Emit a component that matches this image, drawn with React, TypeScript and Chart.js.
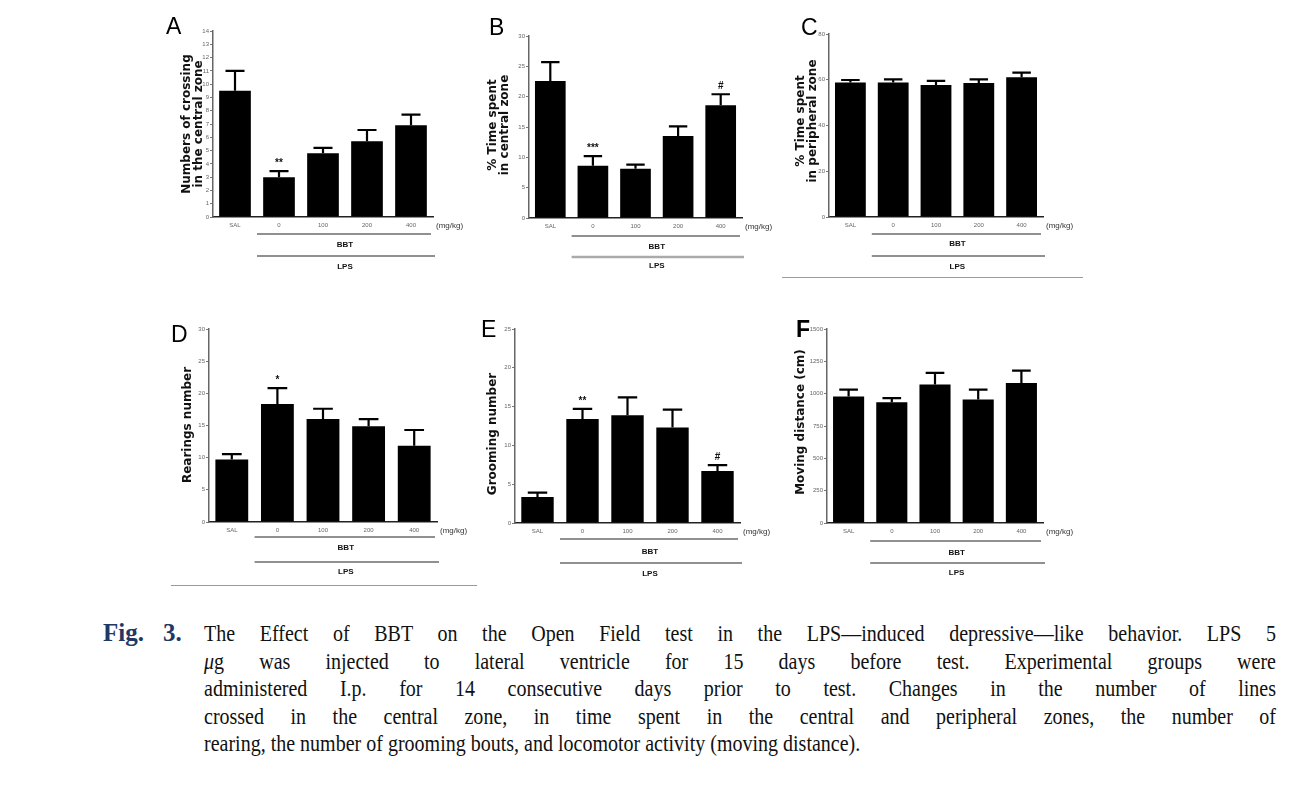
import { useEffect, useRef } from "react";
import { Chart, registerables } from "chart.js";
Chart.register(...registerables);

// ---------- data ----------
const groups = ["SAL", "0", "100", "200", "400"];

const crossingMean = [9.5, 3.0, 4.8, 5.7, 6.9];
const crossingSem = [1.5, 0.45, 0.4, 0.85, 0.8];
const crossingMarks = ["", "**", "", "", ""];

const centralTimeMean = [22.6, 8.6, 8.1, 13.5, 18.6];
const centralTimeSem = [3.1, 1.6, 0.7, 1.6, 1.8];
const centralTimeMarks = ["", "***", "", "", "#"];

const peripheralTimeMean = [58.8, 58.8, 57.7, 58.6, 61.1];
const peripheralTimeSem = [1.1, 1.4, 1.8, 1.6, 2.0];
const peripheralTimeMarks = ["", "", "", "", ""];

const rearingMean = [9.7, 18.35, 16.0, 14.9, 11.85];
const rearingSem = [0.85, 2.45, 1.6, 1.1, 2.45];
const rearingMarks = ["", "*", "", "", ""];

const groomingMean = [3.36, 13.4, 13.9, 12.3, 6.7];
const groomingSem = [0.55, 1.3, 2.3, 2.3, 0.75];
const groomingMarks = ["", "**", "", "", "#"];

const distanceMean = [979, 933, 1070, 954, 1082];
const distanceSem = [52, 33, 90, 77, 96];
const distanceMarks = ["", "", "", "", ""];

const captionLines = [
  "The Effect of BBT on the Open Field test in the LPS\u2014induced depressive\u2014like behavior. LPS 5",
  "was injected to lateral ventricle for 15 days before test. Experimental groups were",
  "administered I.p. for 14 consecutive days prior to test. Changes in the number of lines",
  "crossed in the central zone, in time spent in the central and peripheral zones, the number of",
  "rearing, the number of grooming bouts, and locomotor activity (moving distance).",
];

// ---------- layout ----------
const SANS = "'Liberation Sans', Arial, sans-serif";
const TITLE_FONT = "'DejaVu Sans', 'Liberation Sans', sans-serif";

type PanelSpec = {
  letter: string;
  letterBold: boolean;
  letterX: number;
  letterY: number;
  box: [number, number, number, number];
  area: [number, number, number, number];
  title: string[];
  titleX: number;
  titleY: number;
  means: number[];
  sems: number[];
  marks: string[];
  yMax: number;
  yStep: number;
  bbtLineY: number;
  bbtTextY: number;
  lpsLineY: number;
  lpsTextY: number;
  lpsGrey?: boolean;
  sep?: [number, number, number];
};

const panels: PanelSpec[] = [
  {
    letter: "A", letterBold: false, letterX: 166, letterY: 34,
    box: [150, 5, 328, 285], area: [213, 31, 433, 217],
    title: ["Numbers of crossing", "in the central zone"], titleX: 193, titleY: 124,
    means: crossingMean, sems: crossingSem, marks: crossingMarks,
    yMax: 14, yStep: 1,
    bbtLineY: 234, bbtTextY: 245, lpsLineY: 256, lpsTextY: 267,
  },
  {
    letter: "B", letterBold: false, letterX: 489, letterY: 35,
    box: [480, 5, 298, 285], area: [529, 36, 742, 218],
    title: ["% Time spent", "in central zone"], titleX: 499, titleY: 125,
    means: centralTimeMean, sems: centralTimeSem, marks: centralTimeMarks,
    yMax: 30, yStep: 5,
    bbtLineY: 236, bbtTextY: 247, lpsLineY: 257, lpsTextY: 266, lpsGrey: true,
  },
  {
    letter: "C", letterBold: false, letterX: 801, letterY: 35,
    box: [778, 5, 312, 285], area: [829, 34, 1043, 217],
    title: ["% Time spent", "in peripheral zone"], titleX: 807, titleY: 121,
    means: peripheralTimeMean, sems: peripheralTimeSem, marks: peripheralTimeMarks,
    yMax: 80, yStep: 20,
    bbtLineY: 234, bbtTextY: 244, lpsLineY: 256, lpsTextY: 267,
    sep: [782, 1083, 277],
  },
  {
    letter: "D", letterBold: false, letterX: 171, letterY: 342,
    box: [150, 298, 328, 297], area: [209, 329, 437, 522],
    title: ["Rearings number"], titleX: 188, titleY: 425,
    means: rearingMean, sems: rearingSem, marks: rearingMarks,
    yMax: 30, yStep: 5,
    bbtLineY: 537, bbtTextY: 548, lpsLineY: 562, lpsTextY: 572,
    sep: [171, 477, 585],
  },
  {
    letter: "E", letterBold: false, letterX: 481, letterY: 337,
    box: [480, 298, 298, 297], area: [515, 329, 740, 523],
    title: ["Grooming number"], titleX: 493, titleY: 434,
    means: groomingMean, sems: groomingSem, marks: groomingMarks,
    yMax: 25, yStep: 5,
    bbtLineY: 539, bbtTextY: 552, lpsLineY: 563, lpsTextY: 574,
  },
  {
    letter: "F", letterBold: true, letterX: 796, letterY: 337,
    box: [778, 298, 312, 297], area: [827, 329, 1043, 523],
    title: ["Moving distance (cm)"], titleX: 801, titleY: 422,
    means: distanceMean, sems: distanceSem, marks: distanceMarks,
    yMax: 1500, yStep: 250,
    bbtLineY: 541, bbtTextY: 553, lpsLineY: 563, lpsTextY: 573,
  },
];

function PanelChart({ spec }: { spec: PanelSpec }) {
  const ref = useRef<HTMLCanvasElement>(null);
  useEffect(() => {
    const [bx, by, bw, bh] = spec.box;
    const [l, t, r, b] = spec.area;
    const overlay = {
      id: "overlay",
      afterDraw(chart: any) {
        const ctx = chart.ctx as CanvasRenderingContext2D;
        const xs = chart.scales.x;
        const ys = chart.scales.y;
        const meta = chart.getDatasetMeta(0);
        const ca = chart.chartArea;
        ctx.save();
        // error bars + marks
        spec.means.forEach((m, i) => {
          const x = xs.getPixelForValue(i);
          const y0 = ys.getPixelForValue(m);
          const y1 = ys.getPixelForValue(m + spec.sems[i]);
          const w = meta.data[i].width as number;
          const half = w * 0.3;
          ctx.strokeStyle = "#000";
          ctx.lineWidth = 2.2;
          ctx.beginPath();
          ctx.moveTo(x, y0);
          ctx.lineTo(x, y1);
          ctx.moveTo(x - half, y1);
          ctx.lineTo(x + half, y1);
          ctx.stroke();
          if (spec.marks[i]) {
            ctx.fillStyle = "#111";
            ctx.font = `bold 10px ${SANS}`;
            ctx.textAlign = "center";
            ctx.textBaseline = "alphabetic";
            ctx.fillText(spec.marks[i], x, y1 - 5);
          }
        });
        // (mg/kg)
        ctx.fillStyle = "#333";
        ctx.font = `8px ${SANS}`;
        ctx.textAlign = "left";
        ctx.textBaseline = "middle";
        ctx.fillText("(mg/kg)", ca.right + 3, ca.bottom + 9);
        // BBT / LPS lines
        const startX = (xs.getPixelForValue(0) + xs.getPixelForValue(1)) / 2;
        ctx.strokeStyle = "#222";
        ctx.lineWidth = 1.2;
        ctx.beginPath();
        ctx.moveTo(startX, spec.bbtLineY - by);
        ctx.lineTo(ca.right - 2, spec.bbtLineY - by);
        ctx.stroke();
        if (spec.lpsGrey) {
          ctx.strokeStyle = "#aaa";
          ctx.lineWidth = 2.5;
        }
        ctx.beginPath();
        ctx.moveTo(startX, spec.lpsLineY - by);
        ctx.lineTo(ca.right + 2, spec.lpsLineY - by);
        ctx.stroke();
        ctx.fillStyle = "#111";
        ctx.font = `bold 8px ${SANS}`;
        ctx.textAlign = "center";
        ctx.textBaseline = "middle";
        const mid = (startX + ca.right) / 2;
        ctx.fillText("BBT", mid, spec.bbtTextY - by);
        ctx.fillText("LPS", mid, spec.lpsTextY - by);
        // separator
        if (spec.sep) {
          ctx.strokeStyle = "#9a9a9a";
          ctx.lineWidth = 1;
          ctx.beginPath();
          ctx.moveTo(spec.sep[0] - bx, spec.sep[2] - by + 0.5);
          ctx.lineTo(spec.sep[1] - bx, spec.sep[2] - by + 0.5);
          ctx.stroke();
        }
        // y title
        ctx.save();
        ctx.translate(spec.titleX - bx, spec.titleY - by);
        ctx.rotate(-Math.PI / 2);
        ctx.fillStyle = "#111";
        ctx.font = `bold 12px ${TITLE_FONT}`;
        ctx.textAlign = "center";
        ctx.textBaseline = "middle";
        const n = spec.title.length;
        spec.title.forEach((line, k) => {
          ctx.fillText(line, 0, (k - (n - 1) / 2) * 12);
        });
        ctx.restore();
        // panel letter
        ctx.fillStyle = "#000";
        ctx.font = `${spec.letterBold ? "bold " : ""}23px ${SANS}`;
        ctx.textAlign = "left";
        ctx.textBaseline = "alphabetic";
        ctx.fillText(spec.letter, spec.letterX - bx, spec.letterY - by);
        ctx.restore();
      },
    };
    const chart = new Chart(ref.current!, {
      type: "bar",
      data: {
        labels: groups,
        datasets: [
          {
            data: spec.means,
            backgroundColor: "#000",
            borderWidth: 0,
            barPercentage: 0.72,
            categoryPercentage: 1,
          },
        ],
      },
      options: {
        animation: false,
        responsive: false,
        maintainAspectRatio: false,
        layout: { padding: { left: 0, top: t - by, right: bx + bw - r, bottom: 0 } },
        plugins: { legend: { display: false }, tooltip: { enabled: false }, title: { display: false } },
        scales: {
          x: {
            grid: { display: true, drawOnChartArea: false, drawTicks: true, tickLength: 3, color: "rgba(0,0,0,0)" },
            border: { color: "#222", width: 1.5 },
            ticks: { font: { size: 6, family: SANS }, color: "#666", padding: 2, maxRotation: 0, autoSkip: false },
            afterFit: (s: any) => {
              s.height = by + bh - b;
            },
          },
          y: {
            min: 0,
            max: spec.yMax,
            ticks: {
              stepSize: spec.yStep,
              font: { size: 6, family: SANS },
              color: "#666",
              padding: 1,
              callback: (v: any) => String(v),
            },
            grid: { drawOnChartArea: false, drawTicks: true, tickLength: 3, color: "#777" },
            border: { color: "#666", width: 1.5 },
            afterFit: (s: any) => {
              s.width = l - bx;
            },
          },
        },
      },
      plugins: [overlay],
    } as any);
    return () => chart.destroy();
  }, [spec]);
  const [bx, by, bw, bh] = spec.box;
  return (
    <canvas
      ref={ref}
      width={bw}
      height={bh}
      style={{ position: "absolute", left: bx, top: by, width: bw, height: bh }}
    />
  );
}

const SERIF = "'Liberation Serif', 'Times New Roman', serif";
const captionLeft = 204;
const captionRight = 1276;
const squeeze = 0.87;
const baseTop = 620;
const lineStep = 27.6;

export default function App() {
  const lineStyle = {
    position: "absolute" as const,
    fontFamily: SERIF,
    fontSize: 23,
    lineHeight: "28px",
    transformOrigin: "left top",
    transform: `scaleX(${squeeze})`,
  };
  const figStyle = {
    position: "absolute" as const,
    fontFamily: SERIF,
    fontSize: 25,
    lineHeight: "28px",
    fontWeight: "bold" as const,
    color: "#1f3864",
    whiteSpace: "nowrap" as const,
    top: baseTop - 1,
  };
  return (
    <div
      style={{
        position: "absolute",
        left: 0,
        top: 0,
        width: 1289,
        height: 812,
        background: "#fff",
        overflow: "hidden",
      }}
    >
      {panels.map((p) => (
        <PanelChart key={p.letter} spec={p} />
      ))}
      <div style={{ ...figStyle, left: 103 }}>Fig.</div>
      <div style={{ ...figStyle, left: 163 }}>3.</div>
      {captionLines.map((line, i) => {
        const justify = i < captionLines.length - 1;
        return (
          <div
            key={i}
            style={{
              ...lineStyle,
              left: captionLeft,
              top: baseTop + i * lineStep,
              width: (captionRight - captionLeft) / squeeze,
              color: "#111",
              textAlign: justify ? "justify" : "left",
              textAlignLast: justify ? "justify" : "left",
            }}
          >
            {i === 1 ? (
              <>
                <i>{"\u03bc"}</i>
                {"g "}
              </>
            ) : null}
            {line}
          </div>
        );
      })}
    </div>
  );
}
